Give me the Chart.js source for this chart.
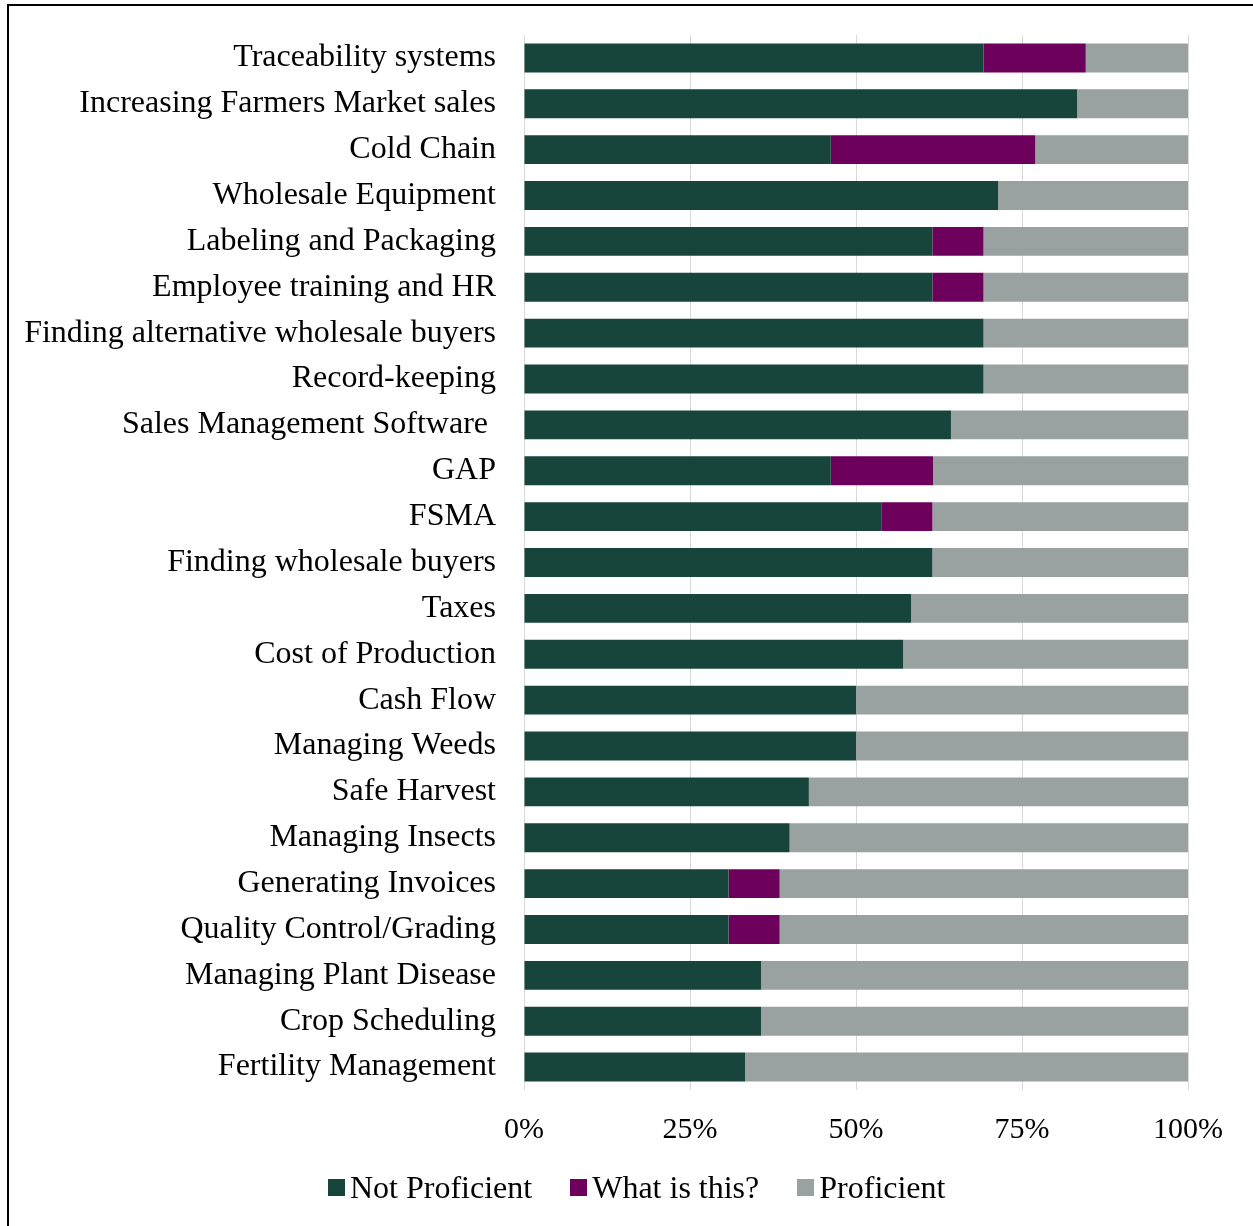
<!DOCTYPE html>
<html>
<head>
<meta charset="utf-8">
<script src="https://cdn.jsdelivr.net/npm/chart.js@4.4.1/dist/chart.umd.min.js"></script>
<style>
  body { margin: 0; background: #fff; }
  #frame { position: absolute; left: 7px; top: 4px; width: 1260px; height: 1240px; border: 2px solid #000; box-sizing: border-box; }
  #wrap { position: absolute; left: 0; top: 0; width: 1253px; height: 1226px; }
  #legend { position: absolute; left: 328px; top: 1167px; display: flex; align-items: center;
    font-family: "Liberation Serif", "Times New Roman", serif; font-size: 32px; color: #000; line-height: 40px; }
  #legend .item { display: flex; align-items: center; margin-right: 38px; }
  #legend .box { width: 17px; height: 17px; margin-right: 5px; }
</style>
</head>
<body>
<div id="frame"></div>
<div id="wrap"><canvas id="myChart"></canvas></div>
<div id="legend"></div>
<script>
var categories = ['Traceability systems', 'Increasing Farmers Market sales', 'Cold Chain', 'Wholesale Equipment',
    'Labeling and Packaging', 'Employee training and HR', 'Finding alternative wholesale buyers', 'Record-keeping',
    'Sales Management Software ', 'GAP', 'FSMA', 'Finding wholesale buyers', 'Taxes', 'Cost of Production',
    'Cash Flow', 'Managing Weeds', 'Safe Harvest', 'Managing Insects', 'Generating Invoices',
    'Quality Control/Grading', 'Managing Plant Disease', 'Crop Scheduling', 'Fertility Management'];
var notProficient = [69.2, 83.3, 46.2, 71.4, 61.5, 61.5, 69.2, 69.2, 64.3, 46.2, 53.8, 61.5, 58.3, 57.1,
    50, 50, 42.9, 40, 30.8, 30.8, 35.7, 35.7, 33.3];
var whatIsThis = [15.4, 0, 30.8, 0, 7.7, 7.7, 0, 0, 0, 15.4, 7.7, 0, 0, 0,
    0, 0, 0, 0, 7.7, 7.7, 0, 0, 0];
var proficient = [15.4, 16.7, 23.0, 28.6, 30.8, 30.8, 30.8, 30.8, 35.7, 38.4, 38.5, 38.5, 41.7, 42.9,
    50, 50, 57.1, 60, 61.5, 61.5, 64.3, 64.3, 66.7];
var xTicks = [0, 25, 50, 75, 100];

var serif = '"Liberation Serif", "Times New Roman", serif';

var ctx = document.getElementById('myChart').getContext('2d');
var myChart = new Chart(ctx, {
    type: 'bar',
    data: {
        labels: categories,
        datasets: [{
            label: 'Not Proficient',
            data: notProficient,
            backgroundColor: '#18453B'
        }, {
            label: 'What is this?',
            data: whatIsThis,
            backgroundColor: '#6D005A'
        }, {
            label: 'Proficient',
            data: proficient,
            backgroundColor: '#9AA1A1'
        }]
    },
    options: {
        indexAxis: 'y',
        responsive: true,
        maintainAspectRatio: false,
        animation: false,
        datasets: { bar: { categoryPercentage: 1, barPercentage: 0.63 } },
        layout: { padding: { top: 35, right: 65, bottom: 0, left: 0 } },
        scales: {
            x: {
                stacked: true,
                min: 0,
                max: 100,
                afterBuildTicks: function (scale) {
                    scale.ticks = xTicks.map(function (v) { return { value: v }; });
                },
                afterFit: function (scale) {
                    scale.height = 136;
                    scale.paddingLeft = 0;
                    scale.paddingRight = 0;
                },
                ticks: {
                    color: '#000',
                    font: { family: serif, size: 30 },
                    padding: 22,
                    maxRotation: 0,
                    callback: function (v) { return v + '%'; }
                },
                grid: { color: '#d9d9d9', lineWidth: 1, drawTicks: false },
                border: { display: false }
            },
            y: {
                stacked: true,
                afterFit: function (scale) {
                    scale.width = 524;
                    scale.paddingTop = 0;
                    scale.paddingBottom = 0;
                },
                ticks: { color: '#000', font: { family: serif, size: 32 }, padding: 28, autoSkip: false },
                grid: { display: false, drawTicks: false },
                border: { display: false }
            }
        },
        plugins: {
            legend: { display: false },
            tooltip: { enabled: false }
        }
    }
});

// legend built from the chart's datasets
var legendEl = document.getElementById('legend');
myChart.data.datasets.forEach(function (ds) {
    var item = document.createElement('div');
    item.className = 'item';
    var box = document.createElement('span');
    box.className = 'box';
    box.style.background = ds.backgroundColor;
    item.appendChild(box);
    item.appendChild(document.createTextNode(ds.label));
    legendEl.appendChild(item);
});
</script>
</body>
</html>
